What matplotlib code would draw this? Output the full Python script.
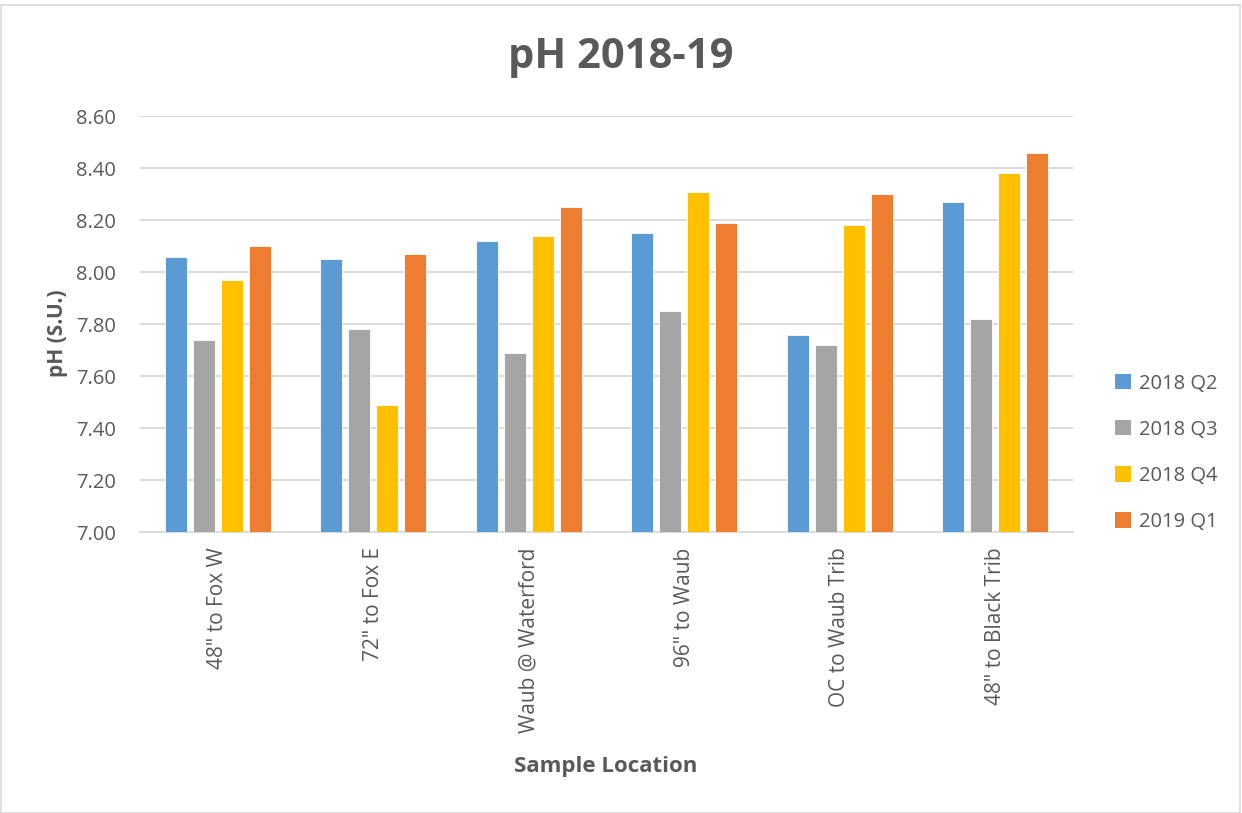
import matplotlib
matplotlib.use("Agg")
import matplotlib.pyplot as plt
import numpy as np
from matplotlib.patches import Rectangle, Patch

categories = ['48" to Fox W', '72" to Fox E', 'Waub @ Waterford', '96" to Waub', 'OC to Waub Trib', '48" to Black Trib']
series_names = ['2018 Q2', '2018 Q3', '2018 Q4', '2019 Q1']
q2_2018 = [8.06, 8.05, 8.12, 8.15, 7.76, 8.27]
q3_2018 = [7.74, 7.78, 7.69, 7.85, 7.72, 7.82]
q4_2018 = [7.97, 7.49, 8.14, 8.31, 8.18, 8.38]
q1_2019 = [8.10, 8.07, 8.25, 8.19, 8.30, 8.46]
yticks = [7.00, 7.20, 7.40, 7.60, 7.80, 8.00, 8.20, 8.40, 8.60]

colors = ['#5B9BD5', '#A5A5A5', '#FFC000', '#ED7D31']
txt = '#595959'
plt.rcParams['font.family'] = ['Open Sans', 'DejaVu Sans']

fig = plt.figure(figsize=(12.42, 8.13), dpi=100)
fig.patches.append(Rectangle((0.001, 0.0), 0.997, 0.994, transform=fig.transFigure,
                             fill=False, edgecolor='#D9D9D9', linewidth=1.2))
ax = fig.add_axes([0.1127, 0.3456, 0.7513, 0.5114])

x = np.arange(len(categories))
step = 0.18
width = 0.142
data = [q2_2018, q3_2018, q4_2018, q1_2019]
for i, (vals, c) in enumerate(zip(data, colors)):
    offs = (i - 1.5) * step
    ax.bar(x + offs, np.array(vals) - 7.0, bottom=7.0, width=width, color=c,
           edgecolor='white', linewidth=0.6, zorder=3, label=series_names[i])

ax.set_xlim(-0.5, len(categories) - 0.5)
ax.set_ylim(7.0, 8.6)
ax.set_yticks(yticks)
ax.set_yticklabels([f'{v:.2f}' for v in yticks], fontsize=14.5, color=txt)
ax.yaxis.grid(True, color='#D9D9D9', linewidth=1.3, zorder=0)
ax.set_axisbelow(True)
for s in ['top', 'right', 'left']:
    ax.spines[s].set_visible(False)
ax.spines['bottom'].set_color('#D9D9D9')
ax.spines['bottom'].set_linewidth(1.3)
ax.tick_params(axis='both', length=0)
ax.tick_params(axis='y', pad=17)
ax.set_xticks(x)
ax.set_xticklabels(categories, rotation=90, fontsize=15, color=txt, va='top')
ax.tick_params(axis='x', pad=11)

fig.text(0.5, 0.929, 'pH 2018-19', ha='center', va='center', fontsize=30,
         fontweight='bold', color=txt)
fig.text(0.046, 0.59, 'pH (S.U.)', rotation=90, ha='center', va='center',
         fontsize=15, fontweight='bold', color=txt)
fig.text(0.488, 0.057, 'Sample Location', ha='center', va='center',
         fontsize=16, fontweight='bold', color=txt)

handles = [Patch(facecolor=c, edgecolor='none') for c in colors]
leg = fig.legend(handles, series_names, loc='center left', bbox_to_anchor=(0.883, 0.443),
                 frameon=False, fontsize=14.5, labelcolor=txt, handlelength=0.8,
                 handleheight=0.8, handletextpad=0.4, labelspacing=1.3)

fig.savefig('out.png', dpi=100)
